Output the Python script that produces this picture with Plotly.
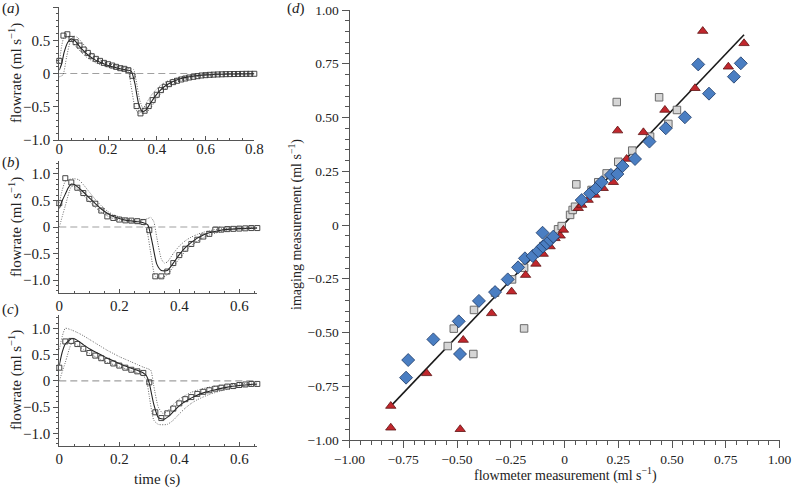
import plotly.graph_objects as go

W, H = 792, 488
FONT = "Liberation Serif"

# ---------------- panel (a) ----------------
a_sq_t = [0.0, 0.017, 0.033, 0.05, 0.067, 0.083, 0.1, 0.117, 0.133, 0.15, 0.167, 0.183, 0.2, 0.217,
          0.233, 0.25, 0.267, 0.283, 0.3, 0.317, 0.333, 0.35, 0.367, 0.383, 0.4, 0.417, 0.433, 0.45,
          0.467, 0.483, 0.5, 0.517, 0.533, 0.55, 0.567, 0.583, 0.6, 0.617, 0.633, 0.65, 0.667, 0.683,
          0.7, 0.717, 0.733, 0.75, 0.767, 0.783, 0.8]
a_sq_f = [0.19, 0.57, 0.59, 0.52, 0.47, 0.42, 0.36, 0.31, 0.26, 0.22, 0.19, 0.16, 0.14, 0.12,
          0.10, 0.08, 0.07, 0.05, -0.035, -0.49, -0.60, -0.56, -0.49, -0.40, -0.32, -0.25, -0.20, -0.16,
          -0.13, -0.11, -0.09, -0.075, -0.06, -0.05, -0.04, -0.03, -0.025, -0.02, -0.017, -0.014, -0.012, -0.01,
          -0.009, -0.008, -0.007, -0.006, -0.005, -0.005, -0.004]
a_mid_t = [0, 0.01, 0.02, 0.035, 0.05, 0.065, 0.08, 0.1, 0.12, 0.14, 0.16, 0.18, 0.2, 0.22, 0.24, 0.26,
           0.28, 0.295, 0.31, 0.325, 0.34, 0.355, 0.37, 0.39, 0.41, 0.43, 0.46, 0.5, 0.55, 0.6, 0.7, 0.8]
a_mid_f = [0.05, 0.15, 0.32, 0.47, 0.52, 0.49, 0.42, 0.34, 0.27, 0.22, 0.18, 0.15, 0.12, 0.10, 0.08, 0.065,
           0.05, 0.035, -0.15, -0.45, -0.57, -0.55, -0.47, -0.36, -0.27, -0.20, -0.13, -0.075, -0.04, -0.02,
           -0.008, -0.003]
a_late_t = [0, 0.015, 0.03, 0.045, 0.06, 0.075, 0.09, 0.11, 0.13, 0.15, 0.17, 0.19, 0.21, 0.23, 0.25, 0.27,
            0.29, 0.305, 0.315, 0.33, 0.345, 0.36, 0.375, 0.39, 0.41, 0.43, 0.46, 0.5, 0.55, 0.6, 0.7, 0.8]
a_late_f = [-0.05, -0.02, 0.25, 0.48, 0.56, 0.54, 0.48, 0.39, 0.31, 0.25, 0.20, 0.17, 0.14, 0.12, 0.10, 0.085,
            0.07, 0.06, -0.10, -0.40, -0.54, -0.57, -0.52, -0.43, -0.33, -0.25, -0.17, -0.10, -0.055, -0.03,
            -0.012, -0.005]
a_early_t = [0, 0.01, 0.02, 0.03, 0.04, 0.055, 0.07, 0.09, 0.11, 0.13, 0.15, 0.17, 0.19, 0.21, 0.23, 0.25,
             0.27, 0.283, 0.295, 0.31, 0.325, 0.34, 0.355, 0.375, 0.395, 0.415, 0.44, 0.48, 0.53, 0.6, 0.7, 0.8]
a_early_f = [0.15, 0.42, 0.56, 0.58, 0.55, 0.47, 0.40, 0.32, 0.25, 0.20, 0.16, 0.13, 0.11, 0.09, 0.07, 0.055,
             0.045, 0.03, -0.20, -0.50, -0.60, -0.56, -0.46, -0.34, -0.25, -0.18, -0.12, -0.07, -0.04, -0.02,
             -0.008, -0.003]

# ---------------- panel (b) ----------------
b_sq_t = [0.0, 0.02, 0.04, 0.06, 0.08, 0.1, 0.12, 0.14, 0.16, 0.18, 0.2, 0.22, 0.24, 0.26, 0.28, 0.3,
          0.32, 0.34, 0.36, 0.38, 0.4, 0.42, 0.44, 0.46, 0.48, 0.5, 0.52, 0.54, 0.56, 0.58, 0.6, 0.62,
          0.64, 0.66]
b_sq_f = [0.45, 0.92, 0.84, 0.74, 0.64, 0.53, 0.44, 0.31, 0.20, 0.17, 0.14, 0.125, 0.12, 0.11, 0.095, -0.06,
          -0.93, -0.93, -0.84, -0.68, -0.53, -0.41, -0.32, -0.24, -0.18, -0.13, -0.05, -0.05, -0.04, -0.035,
          -0.03, -0.025, -0.02, -0.02]
b_up_t = [0, 0.01, 0.02, 0.035, 0.05, 0.065, 0.08, 0.1, 0.12, 0.14, 0.16, 0.18, 0.2, 0.22, 0.24, 0.26, 0.28,
          0.295, 0.305, 0.315, 0.325, 0.34, 0.35, 0.36, 0.38, 0.4, 0.42, 0.44, 0.46, 0.48, 0.5, 0.53, 0.56,
          0.6, 0.66]
b_up_f = [0.45, 0.70, 0.86, 0.90, 0.91, 0.89, 0.80, 0.66, 0.52, 0.40, 0.30, 0.23, 0.19, 0.16, 0.14, 0.13, 0.13,
          0.16, 0.18, 0.10, -0.20, -0.60, -0.68, -0.66, -0.50, -0.36, -0.26, -0.19, -0.14, -0.10, -0.07, -0.04,
          -0.025, -0.015, -0.01]
b_mid_t = [0, 0.01, 0.02, 0.03, 0.04, 0.05, 0.06, 0.08, 0.1, 0.12, 0.14, 0.16, 0.18, 0.2, 0.22, 0.24, 0.26,
           0.28, 0.295, 0.31, 0.325, 0.34, 0.36, 0.38, 0.4, 0.42, 0.44, 0.46, 0.48, 0.5, 0.53, 0.56, 0.6, 0.66]
b_mid_f = [0.35, 0.50, 0.62, 0.74, 0.81, 0.80, 0.76, 0.66, 0.55, 0.44, 0.34, 0.26, 0.20, 0.16, 0.13, 0.115, 0.10,
           0.08, 0.04, -0.30, -0.70, -0.82, -0.82, -0.68, -0.52, -0.39, -0.29, -0.21, -0.15, -0.11, -0.07, -0.045,
           -0.03, -0.02]
b_lo_t = [0, 0.02, 0.04, 0.05, 0.06, 0.08, 0.1, 0.12, 0.14, 0.16, 0.18, 0.2, 0.22, 0.24, 0.26, 0.28, 0.29,
          0.305, 0.32, 0.34, 0.36, 0.38, 0.4, 0.42, 0.44, 0.46, 0.48, 0.5, 0.53, 0.56, 0.6, 0.66]
b_lo_f = [0.0, 0.40, 0.76, 0.77, 0.72, 0.60, 0.48, 0.37, 0.28, 0.21, 0.16, 0.13, 0.11, 0.09, 0.07, 0.04, -0.02,
          -0.50, -0.93, -0.96, -0.90, -0.75, -0.60, -0.46, -0.35, -0.27, -0.20, -0.15, -0.10, -0.065, -0.04, -0.025]

# ---------------- panel (c) ----------------
c_sq_t = [0.0, 0.02, 0.04, 0.06, 0.08, 0.1, 0.12, 0.14, 0.16, 0.18, 0.2, 0.22, 0.24, 0.26, 0.28, 0.3,
          0.32, 0.34, 0.36, 0.38, 0.4, 0.42, 0.44, 0.46, 0.48, 0.5, 0.52, 0.54, 0.56, 0.58, 0.6, 0.62,
          0.64, 0.66]
c_sq_f = [0.25, 0.75, 0.76, 0.70, 0.61, 0.53, 0.48, 0.43, 0.38, 0.33, 0.29, 0.25, 0.21, 0.18, 0.15, -0.03,
          -0.60, -0.71, -0.62, -0.53, -0.43, -0.35, -0.31, -0.25, -0.21, -0.18, -0.15, -0.13, -0.11, -0.10,
          -0.08, -0.07, -0.06, -0.06]
c_up_t = [0, 0.01, 0.02, 0.04, 0.06, 0.08, 0.1, 0.12, 0.14, 0.16, 0.18, 0.2, 0.22, 0.24, 0.26, 0.28, 0.295,
          0.305, 0.315, 0.33, 0.345, 0.36, 0.38, 0.4, 0.42, 0.44, 0.46, 0.5, 0.54, 0.58, 0.62, 0.66]
c_up_f = [0.60, 0.85, 1.0, 0.97, 0.92, 0.86, 0.79, 0.72, 0.65, 0.58, 0.52, 0.46, 0.41, 0.36, 0.31, 0.26, 0.23,
          0.20, -0.10, -0.50, -0.62, -0.58, -0.45, -0.35, -0.28, -0.22, -0.18, -0.12, -0.09, -0.07, -0.05, -0.04]
c_mid_t = [0, 0.01, 0.02, 0.04, 0.05, 0.06, 0.08, 0.1, 0.12, 0.14, 0.16, 0.18, 0.2, 0.22, 0.24, 0.26, 0.28,
           0.29, 0.3, 0.315, 0.33, 0.35, 0.37, 0.39, 0.41, 0.43, 0.45, 0.48, 0.52, 0.56, 0.6, 0.66]
c_mid_f = [0.30, 0.55, 0.70, 0.80, 0.80, 0.77, 0.69, 0.61, 0.55, 0.49, 0.43, 0.38, 0.33, 0.28, 0.24, 0.20, 0.15,
           0.10, -0.05, -0.45, -0.70, -0.73, -0.65, -0.53, -0.43, -0.36, -0.30, -0.23, -0.17, -0.12, -0.09, -0.06]
c_lo_t = [0, 0.02, 0.04, 0.05, 0.06, 0.08, 0.1, 0.12, 0.14, 0.16, 0.18, 0.2, 0.22, 0.24, 0.26, 0.28, 0.29,
          0.3, 0.315, 0.33, 0.36, 0.38, 0.4, 0.42, 0.44, 0.46, 0.5, 0.54, 0.58, 0.62, 0.66]
c_lo_f = [0.0, 0.35, 0.70, 0.72, 0.68, 0.60, 0.52, 0.46, 0.40, 0.35, 0.31, 0.27, 0.23, 0.19, 0.15, 0.09, 0.03,
          -0.30, -0.75, -0.83, -0.83, -0.75, -0.63, -0.52, -0.43, -0.36, -0.26, -0.19, -0.14, -0.10, -0.08]

# ---------------- panel (d) ----------------
tri_x = [-0.808, -0.808, -0.485, -0.641, -0.471, -0.339, -0.246, -0.181, -0.133, -0.099, -0.067, -0.044,
         -0.02, -0.005, 0.064, 0.080, 0.11, 0.142, 0.18, 0.227, 0.289, 0.247, 0.367, 0.467, 0.607, 0.643,
         0.762, 0.835]
tri_y = [-0.842, -0.943, -0.950, -0.690, -0.535, -0.411, -0.310, -0.233, -0.181, -0.135, -0.100, -0.062,
         -0.050, -0.023, 0.078, 0.093, 0.116, 0.140, 0.171, 0.199, 0.307, 0.439, 0.431, 0.535, 0.636, 0.902,
         0.736, 0.845]
dia_x = [-0.737, -0.727, -0.610, -0.492, -0.486, -0.398, -0.323, -0.264, -0.216, -0.184, -0.148, -0.122,
         -0.101, -0.083, -0.067, -0.052, -0.102, 0.080, 0.119, 0.147, 0.173, 0.216, 0.246, 0.270, 0.328,
         0.395, 0.471, 0.560, 0.622, 0.672, 0.788, 0.820]
dia_y = [-0.710, -0.628, -0.532, -0.448, -0.600, -0.353, -0.312, -0.253, -0.197, -0.155, -0.144, -0.121,
         -0.100, -0.085, -0.070, -0.054, -0.036, 0.116, 0.147, 0.170, 0.199, 0.233, 0.237, 0.274, 0.307,
         0.388, 0.450, 0.501, 0.747, 0.611, 0.690, 0.752]
sqr_x = [-0.543, -0.515, -0.424, -0.421, -0.323, -0.244, -0.188, -0.188, -0.099, -0.03, -0.013, 0.026,
         0.038, 0.049, 0.055, 0.126, 0.157, 0.196, 0.243, 0.250, 0.315, 0.398, 0.440, 0.483, 0.523]
sqr_y = [-0.563, -0.482, -0.600, -0.395, -0.315, -0.253, -0.481, -0.199, -0.098, -0.02, -0.005, 0.047,
         0.070, 0.085, 0.189, 0.163, 0.199, 0.240, 0.572, 0.294, 0.346, 0.411, 0.594, 0.470, 0.535]
fit_x = [-0.81, 0.835]
fit_y = [-0.845, 0.885]

flow_ticks = [-1.0, -0.5, 0, 0.5, 1.0]
flow_ticktext = ["\u22121.0", "\u22120.5", "0", "0.5", "1.0"]
time_ticks_a = [0, 0.2, 0.4, 0.6, 0.8]
time_ticks_bc = [0, 0.2, 0.4, 0.6]
d_ticks = [-1.0, -0.75, -0.5, -0.25, 0, 0.25, 0.5, 0.75, 1.0]
d_ticktext = ["\u22121.00", "\u22120.75", "\u22120.50", "\u22120.25", "0", "0.25", "0.50", "0.75", "1.00"]

fig = go.Figure()

def px_x(p):
    return p / W

def px_y(p):
    return 1 - p / H

panels = [
    ("x", "y", a_sq_t, a_sq_f, [(a_mid_t, a_mid_f, "solid"), (a_late_t, a_late_f, "dot"), (a_early_t, a_early_f, "dot")]),
    ("x2", "y2", b_sq_t, b_sq_f, [(b_mid_t, b_mid_f, "solid"), (b_up_t, b_up_f, "dot"), (b_lo_t, b_lo_f, "dot")]),
    ("x3", "y3", c_sq_t, c_sq_f, [(c_mid_t, c_mid_f, "solid"), (c_up_t, c_up_f, "dot"), (c_lo_t, c_lo_f, "dot")]),
]

for xa, ya, st, sf, lines in panels:
    fig.add_shape(type="line", xref=xa + " domain", yref=ya, x0=0, x1=1, y0=0, y1=0,
                  line=dict(color="#a0a0a0", width=1.2, dash="7px,4px"), layer="below")
    for lt, lf, dash in lines:
        fig.add_trace(go.Scatter(x=lt, y=lf, xaxis=xa, yaxis=ya, mode="lines",
                                 line=dict(color="#222" if dash == "solid" else "#555",
                                           width=1.1 if dash == "solid" else 0.9,
                                           dash="solid" if dash == "solid" else "1px,1.5px",
                                           shape="spline", smoothing=0.6),
                                 showlegend=False, hoverinfo="skip"))
    fig.add_trace(go.Scatter(x=st, y=sf, xaxis=xa, yaxis=ya, mode="markers", cliponaxis=False,
                             marker=dict(symbol="square-open", size=5, color="#333", line=dict(width=0.9)),
                             showlegend=False))

# panel d
fig.add_trace(go.Scatter(x=fit_x, y=fit_y, xaxis="x4", yaxis="y4", mode="lines",
                         line=dict(color="#1a1a1a", width=1.6), showlegend=False))
fig.add_trace(go.Scatter(x=sqr_x, y=sqr_y, xaxis="x4", yaxis="y4", mode="markers",
                         marker=dict(symbol="square", size=7.5, color="#d6d6d6",
                                     line=dict(color="#6b6b6b", width=1)), showlegend=False))
fig.add_trace(go.Scatter(x=tri_x, y=tri_y, xaxis="x4", yaxis="y4", mode="markers",
                         marker=dict(symbol="triangle-up", size=9, color="#c1272d",
                                     line=dict(color="#5e1414", width=0.8)), showlegend=False))
fig.add_trace(go.Scatter(x=dia_x, y=dia_y, xaxis="x4", yaxis="y4", mode="markers",
                         marker=dict(symbol="diamond", size=10, color="#4a7ec2",
                                     line=dict(color="#1e3a66", width=0.8)), showlegend=False))

axcol = "#555"
tickfont_small = dict(family=FONT, size=15, color="#222")
tickfont_d = dict(family=FONT, size=13.5, color="#222")

def xaxis(domain, rng, tv, anchor, tickfont, minor_dtick, ticktext=None, ticks="outside",
          ticklen=7, minorlen=4, standoff=0):
    d = dict(domain=domain, range=rng, anchor=anchor, tickvals=tv, showgrid=False, zeroline=False,
             automargin=False, showline=True, linecolor=axcol, linewidth=1, ticks=ticks, ticklen=ticklen,
             tickcolor=axcol, tickfont=tickfont, ticklabelstandoff=standoff,
             minor=dict(dtick=minor_dtick, tick0=0, ticks=ticks, ticklen=minorlen,
                        tickcolor=axcol, showgrid=False))
    d["ticktext"] = ticktext if ticktext else [("0" if v == 0 else f"{v:g}") for v in tv]
    return d

def yaxis(domain, rng, tv, tt, anchor, tickfont, minor_dtick, ticklen=5, minorlen=2.5):
    return dict(domain=domain, range=rng, anchor=anchor, tickvals=tv, ticktext=tt, showgrid=False,
                zeroline=False, automargin=False, showline=True, linecolor=axcol, linewidth=1,
                ticks="outside", ticklen=ticklen, tickcolor=axcol, tickfont=tickfont,
                minor=dict(dtick=minor_dtick, tick0=0, ticks="outside", ticklen=minorlen, tickcolor=axcol,
                           showgrid=False))

xa_dom = [px_x(59.3), px_x(254.3)]
xbc_dom = [px_x(59.3), px_x(257.3)]

fig.update_layout(
    width=W, height=H, margin=dict(l=0, r=0, t=0, b=0, pad=0, autoexpand=False),
    paper_bgcolor="white", plot_bgcolor="white",
    xaxis=xaxis(xa_dom, [0, 0.8], time_ticks_a, "y", tickfont_small, 0.05, ticks="inside",
                ticklen=4, minorlen=2.5, standoff=-5),
    yaxis=yaxis([px_y(140), px_y(7)], [-1.0, 1.0], flow_ticks, flow_ticktext, "x", tickfont_small, 0.1),
    xaxis2=xaxis(xbc_dom, [0, 0.66], time_ticks_bc, "y2", tickfont_small, 0.05, ticks="inside",
                 ticklen=4, minorlen=2.5, standoff=-1),
    yaxis2=yaxis([px_y(293.3), px_y(160.7)], [-1.25, 1.25], flow_ticks, flow_ticktext, "x2", tickfont_small, 0.1),
    xaxis3=xaxis(xbc_dom, [0, 0.66], time_ticks_bc, "y3", tickfont_small, 0.05, ticks="inside",
                 ticklen=4, minorlen=2.5, standoff=-1),
    yaxis3=yaxis([px_y(446.4), px_y(315.2)], [-1.25, 1.25], flow_ticks, flow_ticktext, "x3", tickfont_small, 0.1),
    xaxis4=xaxis([px_x(349.5), px_x(779.5)], [-1, 1], d_ticks, "y4", tickfont_d, 0.05, d_ticktext),
    yaxis4=yaxis([px_y(440), px_y(10)], [-1, 1], d_ticks, d_ticktext, "x4", tickfont_d, 0.05,
                 ticklen=7, minorlen=4),
)

def ann(text, x, y, size=15, angle=0, xanchor="center"):
    fig.add_annotation(text=text, x=px_x(x), y=px_y(y), xref="paper", yref="paper", showarrow=False,
                       textangle=angle, xanchor=xanchor, yanchor="middle",
                       font=dict(family=FONT, size=size, color="#222"))

unit = "(ml s<sup>\u22121</sup>)"
ann("flowrate " + unit, 15, 73, angle=-90)
ann("flowrate " + unit, 15, 227, angle=-90)
ann("flowrate " + unit, 15, 380, angle=-90)
ann("time (s)", 157, 479)
ann("imaging measurement " + unit, 295, 225, angle=-90, size=14)
ann("flowmeter measurement " + unit, 565, 474, size=14)
ann("(<i>a</i>)", 0, 8, xanchor="left")
ann("(<i>b</i>)", 0, 162, xanchor="left")
ann("(<i>c</i>)", 0, 309, xanchor="left")
ann("(<i>d</i>)", 285, 9, xanchor="left")

fig.write_html("out.html", config={"displayModeBar": False},
               post_script="document.body.style.margin='0px';document.body.style.overflow='hidden';")
